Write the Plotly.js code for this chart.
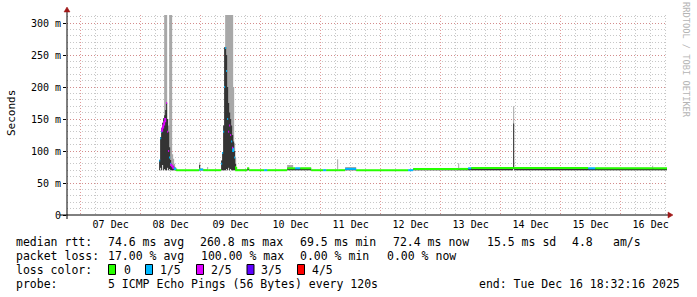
<!DOCTYPE html>
<html><head><meta charset="utf-8">
<script src="https://cdn.plot.ly/plotly-3.0.1.min.js"></script>
<style>html,body{margin:0;padding:0;background:#fff}#chart{width:697px;height:297px}</style>
</head><body><div id="chart"></div>
<script>
// ---- data (hours after 2025-12-08 00:00, values in ms) ----
const tHours = [7.4,7.8,8.2,8.6,9.0,9.4,9.8,10.2,10.6,11.0,11.4,11.8,12.2,12.6,13.0,13.4,13.8,14.2,14.6,
  23.4,23.8,25.0,26.6,27.0,
  32.2,32.6,33.0,33.4,33.8,34.2,34.6,35.0,35.4,35.8,36.2,36.6,37.0,37.4,37.8,38.2,
  42.6,43.4,49.4,50.6,58.6,61.0,61.8,63.8,68.2,73.0,74.2,78.6,79.0,81.8,86.2,
  107.0,109.0,127.0,127.4,131.0,132.2,149.0,149.4,179.0,181.8,204.6,205.0,210.54];
const median = [85,120,130,135,140,145,150,175,130,100,90,80,78,76,74,73,72,71,70,
  72,71,70,70,70,
  80,97,130,200,260.8,225,150,130,140,125,115,105,100,90,75,70,
  73,70,70,70,73,73,73,73,70,70,70,70,70,72,70,
  70,72,72,72,73,73.5,73.5,73.5,73,73,73,73,73];
const lossFifths = [1,1,1,2,2,2,2,2,2,2,1,1,2,2,2,1,1,0,0,
  0,1,0,0,0,
  1,1,1,1,1,1,1,2,2,2,1,2,1,1,0,0,
  0,0,1,0,0,0,1,0,0,1,0,0,0,1,0,
  1,0,0,0,1,0,0,0,1,0,0,0,0];
const smokeMin = [70,74,70,78,70,72,70,70,74,70,72,70,70,70,70,70,70,70,69.5,
  70,70,69.5,69.5,69.5,
  70,70,70,70,70,72,70,74,70,72,70,70,70,70,70,69.5,
  70,69.5,69.5,69.5,70,70,70,70,69.5,69.5,69.5,69.5,69.5,70,69.5,
  69.5,70,70,70,70,70,72,70,70,70,70,70,70];
const smokeInner = [86,122,136,144,151,156,164,175,150,130,106,86,80,78,76,74,72,71,70,
  78,72,70,70,70,
  85,98,140,262,262,250,200,175,160,150,140,125,115,100,80,70,
  73,70,70,70,73,73,73,73,70,70,70,70,70,72,70,
  70,72,72,72,73,73.5,143,73.5,73,73,73,73,73];
const smokeMax = [86,122,136,144,151,315,315,315,150,140,315,315,315,95,88,80,75,71.5,70.5,
  82,72.5,71,75,70.5,
  85,98,140,262,315,315,315,315,315,315,315,315,200,112,90,72,
  74,70.5,71,70.5,78,74,74,74,70.5,71,70.5,87,70.5,75,70.5,
  71,73,81,73,74,74.5,170,74.5,74,74,77,74,74];
const lossColors = ['#26ff00','#00b8ff','#dd00ff','#5e00ff','#ff0000'];
const lossLabels = ['0','1/5','2/5','3/5','4/5'];
const yTickVals = [0,50,100,150,200,250,300];
const yTickText = ['0','50 m','100 m','150 m','200 m','250 m','300 m'];

// ---- helpers ----
const base = Date.UTC(2025,11,8);
function toDate(h){return new Date(base+h*3600e3).toISOString().replace('T',' ').slice(0,19);}
const times = tHours.map(toDate);
const FONT = 'DejaVu Sans Mono';
const L=67, PW=600, TOP=15, PH=200;
const xp = px => (px-L)/PW;
const yp = py => (TOP+PH-py)/PH;

const traces = [];
// light smoke
traces.push({x:times,y:smokeMin,mode:'lines',line:{width:0,shape:'hv'},hoverinfo:'skip',showlegend:false});
traces.push({x:times,y:smokeMax,mode:'lines',line:{width:0,shape:'hv'},fill:'tonexty',fillcolor:'#a8a8a8',hoverinfo:'skip',showlegend:false});
// dark smoke
traces.push({x:times,y:smokeMin,mode:'lines',line:{width:0,shape:'hv'},hoverinfo:'skip',showlegend:false});
traces.push({x:times,y:smokeInner,mode:'lines',line:{width:0,shape:'hv'},fill:'tonexty',fillcolor:'#333333',hoverinfo:'skip',showlegend:false});
// median coloured by loss
for(let lv=0; lv<lossColors.length; lv++){
  const xs=[], ys=[];
  for(let i=0;i<times.length-1;i++){
    if(lossFifths[i]!==lv) continue;
    const v=median[i];
    if(i>0 && Math.abs(median[i-1]-v)<=5 && tHours[i]-tHours[i-1]<0.5){ xs.push(times[i]); ys.push(median[i-1]); }
    xs.push(times[i]); ys.push(v);
    xs.push(times[i+1]); ys.push(v);
    xs.push(null); ys.push(null);
  }
  if(xs.length) traces.push({x:xs,y:ys,mode:'lines',line:{color:lossColors[lv],width:2},connectgaps:false,hoverinfo:'skip',showlegend:false});
}

const ann = [];
const LS = 11.5;
function txt(px,py,text,size,extra){ann.push(Object.assign({xref:'paper',yref:'paper',x:xp(px),y:yp(py),xanchor:'left',yanchor:'middle',text:text,showarrow:false,borderpad:0,font:{family:FONT,size:size||LS,color:'#000'}},extra||{}));}
// legend lines
const r1=241.5, r2=255.5, r3=269.5, r4=283.5;
txt(15,r1,'median rtt:'); txt(106.5,r1,'74.6 ms avg'); txt(199,r1,'260.8 ms max'); txt(299,r1,'69.5 ms min');
txt(392,r1,'72.4 ms now'); txt(486,r1,'15.5 ms sd'); txt(571,r1,'4.8'); txt(612,r1,'am/s');
txt(15,r2,'packet loss:'); txt(106.5,r2,'17.00 % avg'); txt(200,r2,'100.00 % max'); txt(299,r2,'0.00 % min'); txt(386,r2,'0.00 % now');
txt(15,r3,'loss color:');
const boxX=[108,145,196,246.5,297], labX=[123,159,209.5,260,311];
const shapes=[];
for(let i=0;i<5;i++){
  shapes.push({type:'rect',xref:'paper',yref:'paper',x0:xp(boxX[i]+0.5),x1:xp(boxX[i]+7.5),y0:yp(274.5),y1:yp(264.5),fillcolor:lossColors[i],line:{color:'#000',width:1}});
  txt(labX[i],r3,lossLabels[i]);
}
txt(15,r4,'probe:'); txt(106.5,r4,'5 ICMP Echo Pings (56 Bytes) every 120s'); txt(477.5,r4,'end: Tue Dec 16 18:32:16 2025');
// y title
ann.push({xref:'paper',yref:'paper',x:xp(11),y:yp(113),xanchor:'center',yanchor:'middle',text:'Seconds',textangle:-90,showarrow:false,font:{family:FONT,size:11,color:'#000'}});
// watermark
ann.push({xref:'paper',yref:'paper',x:xp(686),y:yp(60),xanchor:'center',yanchor:'middle',text:'RRDTOOL / TOBI OETIKER',textangle:90,showarrow:false,font:{family:FONT,size:8.7,color:'#b4b4b4'}});

// axes lines and arrows
shapes.push({type:'line',xref:'paper',yref:'paper',x0:xp(60),x1:xp(669),y0:yp(215),y1:yp(215),line:{color:'#000',width:1}});
shapes.push({type:'line',xref:'paper',yref:'paper',x0:xp(67),x1:xp(67),y0:yp(219),y1:yp(11),line:{color:'#000',width:1}});
shapes.push({type:'path',xref:'paper',yref:'paper',path:`M ${xp(668)} ${yp(212)} L ${xp(673)} ${yp(215)} L ${xp(668)} ${yp(218)} Z`,fillcolor:'#a01818',line:{color:'#a01818',width:0.5}});
shapes.push({type:'path',xref:'paper',yref:'paper',path:`M ${xp(64)} ${yp(12)} L ${xp(67)} ${yp(7)} L ${xp(70)} ${yp(12)} Z`,fillcolor:'#a01818',line:{color:'#a01818',width:0.5}});

const layout = {
  width:697,height:297,
  margin:{l:67,r:30,t:15,b:82,pad:0},
  paper_bgcolor:'#fff',plot_bgcolor:'#fff',
  showlegend:false,
  font:{family:FONT,size:10,color:'#000'},
  xaxis:{type:'date',range:['2025-12-06 18:32:16','2025-12-16 18:32:16'],
    tick0:'2025-12-07',dtick:86400000,ticklabelmode:'period',tickformat:'%d %b',
    showgrid:true,gridcolor:'rgba(215,120,120,0.75)',griddash:'1px,2px',gridwidth:1,
    ticks:'',showline:false,zeroline:false,ticklabelstandoff:2,
    tickfont:{family:FONT,size:10,color:'#000'},
    minor:{dtick:21600000,showgrid:true,gridcolor:'rgba(175,175,175,0.7)',griddash:'1px,2px',gridwidth:1}},
  yaxis:{range:[0,312.5],tickvals:yTickVals,ticktext:yTickText,
    showgrid:true,gridcolor:'rgba(215,120,120,0.75)',griddash:'1px,2px',gridwidth:1,
    ticks:'outside',ticklen:3,tickcolor:'#000',showline:false,zeroline:false,
    tickfont:{family:FONT,size:10,color:'#000'},
    minor:{dtick:10,showgrid:true,gridcolor:'rgba(175,175,175,0.7)',griddash:'1px,2px',gridwidth:1}},
  annotations:ann,shapes:shapes
};
Plotly.newPlot('chart',traces,layout,{staticPlot:true,displayModeBar:false});
</script></body></html>
